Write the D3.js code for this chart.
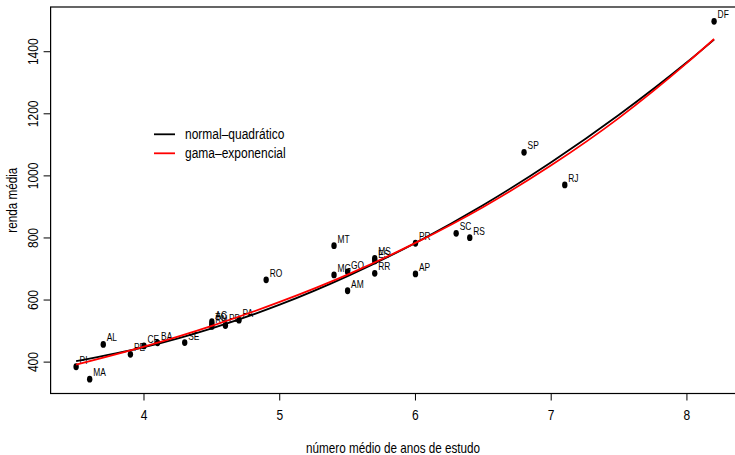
<!DOCTYPE html>
<html><head><meta charset="utf-8">
<script src="https://cdn.jsdelivr.net/npm/d3@7"></script>
<style>html,body{margin:0;padding:0;background:#fff;}</style>
</head><body>
<svg id="c" width="735" height="455"></svg>
<script>
// ---- data ----
const states = ["PI","MA","AL","PE","CE","BA","SE","AC","TO","RN","PB","PA","RO","MT","MG","GO","AM","MS","ES","RR","PR","AP","SC","RS","SP","RJ","DF"];
const escolaridade = [3.5,3.6,3.7,3.9,4.0,4.1,4.3,4.5,4.5,4.5,4.6,4.7,4.9,5.4,5.4,5.5,5.5,5.7,5.7,5.7,6.0,6.0,6.3,6.4,6.8,7.1,8.2];
const renda = [385,345,457,425,452,462,463,530,522,515,518,535,665,775,681,691,630,734,726,686,783,684,815,801,1076,971,1498];
// fitted curves
const curveX = [3.5,4.0,4.5,5.0,5.5,6.0,6.5,7.0,7.5,8.0,8.2];
const normalQuad = [403,448,509,585,677,784,906,1044,1197,1366,1439];
const gamaExp = [392,450,517,594,682,784,900,1034,1187,1364,1441];
const xTicks = [4,5,6,7,8];
const yTicks = [400,600,800,1000,1200,1400];
const legendLabels = ["normal\u2013quadrático","gama\u2013exponencial"];
const legendColors = ["#000000","#ff0000"];

const svg = d3.select("#c");
const FONT = "'Liberation Sans', Arial, Helvetica, sans-serif";
const L = 50.6, R = 739.6, T = 7, B = 393.5;
const xmin = d3.min(escolaridade), xmax = d3.max(escolaridade);
const ymin = d3.min(renda), ymax = d3.max(renda);
const x = d3.scaleLinear().domain([xmin-0.04*(xmax-xmin), xmax+0.04*(xmax-xmin)]).range([L,R]);
const y = d3.scaleLinear().domain([ymin-0.04*(ymax-ymin), ymax+0.04*(ymax-ymin)]).range([B,T]);

function txt(g, px, py, s, size, anchor, rot){
  return g.append("text")
    .attr("transform", `translate(${px},${py}) rotate(${rot||0}) scale(0.8,1)`)
    .attr("text-anchor", anchor||"start")
    .attr("font-family", FONT).attr("font-size", size)
    .attr("fill","#000").text(s);
}

// box
svg.append("rect").attr("x",L).attr("y",T).attr("width",R-L).attr("height",B-T)
  .attr("fill","none").attr("stroke","#000").attr("stroke-width",1.2);

// x axis
const gx = svg.append("g");
xTicks.forEach(t=>{
  gx.append("line").attr("x1",x(t)).attr("x2",x(t)).attr("y1",B).attr("y2",B+7).attr("stroke","#000");
  txt(gx, x(t), 420, String(t), 15, "middle");
});
txt(gx, (L+R)/2 - 2, 452.5, "número médio de anos de estudo", 14.6, "middle");

// y axis
const gy = svg.append("g");
yTicks.forEach(t=>{
  gy.append("line").attr("x1",L-7).attr("x2",L).attr("y1",y(t)).attr("y2",y(t)).attr("stroke","#000");
  txt(gy, 38, y(t), String(t), 15, "middle", -90);
});
txt(gy, 17, (T+B)/2, "renda média", 14.6, "middle", -90);

// points
const gp = svg.append("g");
states.forEach((s,i)=>{
  gp.append("ellipse").attr("cx",x(escolaridade[i])).attr("cy",y(renda[i]))
    .attr("rx",2.7).attr("ry",3.4).attr("fill","#000");
});
states.forEach((s,i)=>{
  txt(gp, x(escolaridade[i])+3.5, y(renda[i])-3, s, 10.5, "start");
});

// curves
const line = (vals)=> d3.line().x((d,i)=>x(curveX[i])).y(d=>y(d)).curve(d3.curveMonotoneX)(vals);
svg.append("path").attr("d", line(normalQuad)).attr("fill","none").attr("stroke","#000").attr("stroke-width",1.8);
svg.append("path").attr("d", line(gamaExp)).attr("fill","none").attr("stroke","#ff0000").attr("stroke-width",1.8);

// legend
const gl = svg.append("g");
legendLabels.forEach((lab,i)=>{
  const ly = 134.3 + i*19;
  gl.append("line").attr("x1",154).attr("x2",175).attr("y1",ly).attr("y2",ly)
    .attr("stroke",legendColors[i]).attr("stroke-width",1.8);
  txt(gl, 185, ly+5, lab, 15, "start");
});
</script>
</body></html>
